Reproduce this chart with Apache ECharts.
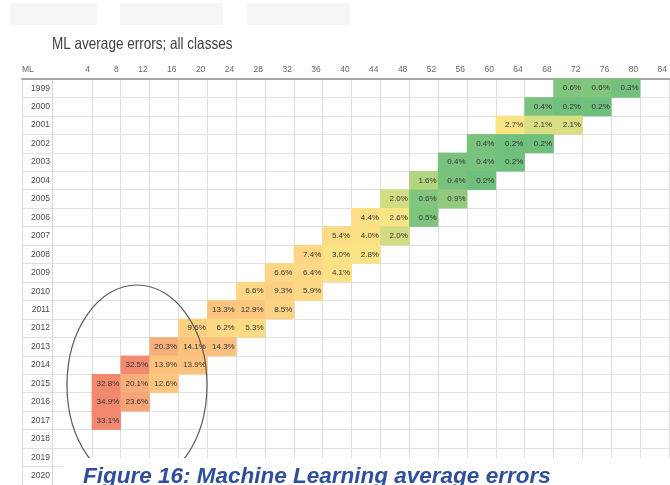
<!DOCTYPE html>
<html>
<head>
<meta charset="utf-8">
<title>ML average errors; all classes</title>
<script src="https://cdn.jsdelivr.net/npm/echarts@6/dist/echarts.min.js"></script>
<style>
  html, body { margin: 0; padding: 0; background: #fff; }
  #chart { width: 670px; height: 485px; }
</style>
</head>
<body>
<div id="chart"></div>
<script>
// column headers (ML window) and row years
var cols = ['4','8','12','16','20','24','28','32','36','40','44','48','52','56','60','64','68','72','76','80','84'];
var years = ['1999','2000','2001','2002','2003','2004','2005','2006','2007','2008','2009',
             '2010','2011','2012','2013','2014','2015','2016','2017','2018','2019','2020'];

// first filled column for each year (1999..2017) and the error values (%) from there on
var startCol = ['72','68','64','60','56','52','48','44','40','36','32','28','24','20','16','12','8','8','8'];
var errors = [
    [0.6, 0.6, 0.3],
    [0.4, 0.2, 0.2],
    [2.7, 2.1, 2.1],
    [0.4, 0.2, 0.2],
    [0.4, 0.4, 0.2],
    [1.6, 0.4, 0.2],
    [2.0, 0.6, 0.9],
    [4.4, 2.6, 0.5],
    [5.4, 4.0, 2.0],
    [7.4, 3.0, 2.8],
    [6.6, 6.4, 4.1],
    [6.6, 9.3, 5.9],
    [13.3, 12.9, 8.5],
    [9.6, 6.2, 5.3],
    [20.3, 14.1, 14.3],
    [32.5, 13.9, 13.9],
    [32.8, 20.1, 12.6],
    [34.9, 23.6],
    [33.1]
];

// colour scale stops (green - yellow - red, like the spreadsheet)
var stopVals = [0.2, 1.6, 2.5, 6, 13.5, 21, 33];
var stopColors = ['#6fbf7d', '#b2d57f', '#f9e585', '#fdd985', '#fbc47f', '#f6ac79', '#f2886f'];

var font = '"Liberation Sans", Arial, sans-serif';

function scalePos(v) {
    if (v <= stopVals[0]) return 0;
    for (var i = 1; i < stopVals.length; i++) {
        if (v <= stopVals[i]) {
            return i - 1 + (v - stopVals[i - 1]) / (stopVals[i] - stopVals[i - 1]);
        }
    }
    return stopVals.length - 1;
}

var cells = [];
errors.forEach(function (row, r) {
    var c0 = cols.indexOf(startCol[r]);
    row.forEach(function (v, k) {
        cells.push([c0 + k, r, v, scalePos(v)]);
    });
});

var myChart = echarts.init(document.getElementById('chart'));
var option = {
    backgroundColor: '#fff',
    animation: false,
    grid: [
        { left: 22, right: 0, top: 79, height: 407 },
        { left: 63, right: 0, top: 79, height: 407 }
    ],
    xAxis: [
        {
            type: 'category', gridIndex: 0, data: [''], position: 'top',
            axisLine: { show: true, lineStyle: { color: '#a5a5a5', width: 2 } },
            axisTick: { show: false }, axisLabel: { show: false }, splitLine: { show: false }
        },
        {
            type: 'category', gridIndex: 1, data: cols, position: 'top',
            axisLine: { show: false }, axisTick: { show: false },
            axisLabel: {
                interval: 0,
                margin: 5,
                formatter: function (v) { return '{a|' + v + '}'; },
                rich: { a: { width: 25, align: 'right', fontFamily: font, fontSize: 8.5, color: '#666' } }
            },
            splitLine: {
                show: true,
                interval: function (i) { return i > 0; },
                lineStyle: { color: '#dedede', width: 1 }
            }
        }
    ],
    yAxis: [
        {
            type: 'category', gridIndex: 0, data: years, inverse: true,
            name: 'ML', nameLocation: 'start', nameGap: 5,
            nameTextStyle: { fontFamily: font, fontSize: 8.5, color: '#666', align: 'left' },
            axisLine: { show: true, lineStyle: { color: '#d6d6d6' } },
            axisTick: { show: false },
            axisLabel: { interval: 0, inside: true, align: 'right', margin: 28, fontFamily: font, fontSize: 8.5, color: '#4a4a4a' },
            splitLine: { show: true, lineStyle: { color: '#e0e0e0' } }
        },
        {
            type: 'category', gridIndex: 1, data: years, inverse: true,
            axisLine: { show: false }, axisTick: { show: false },
            axisLabel: { show: false }, splitLine: { show: false }
        }
    ],
    visualMap: {
        show: false,
        type: 'continuous',
        dimension: 3,
        min: 0,
        max: stopColors.length - 1,
        seriesIndex: 0,
        inRange: { color: stopColors }
    },
    series: [
        {
            name: 'ML average errors',
            type: 'heatmap',
            xAxisIndex: 1,
            yAxisIndex: 1,
            data: cells,
            label: {
                show: true,
                formatter: function (p) { return '{a|' + p.value[2].toFixed(1) + '%}'; },
                rich: { a: { width: 26, align: 'right', fontFamily: font, fontSize: 8, color: '#333' } }
            },
            emphasis: { disabled: true }
        }
    ],
    graphic: [
        // faint grey blocks along the top edge of the source image
        { type: 'rect', shape: { x: 10, y: 3, width: 87, height: 22 }, style: { fill: '#f5f5f5' }, z: 0 },
        { type: 'rect', shape: { x: 120, y: 3, width: 103, height: 22 }, style: { fill: '#f5f5f5' }, z: 0 },
        { type: 'rect', shape: { x: 247, y: 3, width: 103, height: 22 }, style: { fill: '#f5f5f5' }, z: 0 },
        // title, squeezed to look like the condensed spreadsheet font
        { type: 'text', x: 52, y: 36, scaleX: 0.82,
          style: { text: 'ML average errors; all classes', font: '16.5px ' + font, fill: '#404040' } },
        { type: 'line', shape: { x1: 52.5, y1: 80, x2: 52.5, y2: 485 }, style: { stroke: '#d6d6d6', lineWidth: 1 }, z: 1 },
        { type: 'ellipse', shape: { cx: 137, cy: 385, rx: 70, ry: 100 },
          style: { fill: 'none', stroke: '#5a5a5a', lineWidth: 1.2 }, z: 100 },
        { type: 'rect', shape: { x: 63, y: 458, width: 607, height: 27 }, style: { fill: '#fff' }, z: 110 },
        { type: 'text', x: 83, y: 465,
          style: { text: 'Figure 16: Machine Learning average errors',
                   font: 'italic bold 22.5px ' + font, fill: '#2f4f9e' },
          z: 120 }
    ]
};
myChart.setOption(option);
</script>
</body>
</html>
